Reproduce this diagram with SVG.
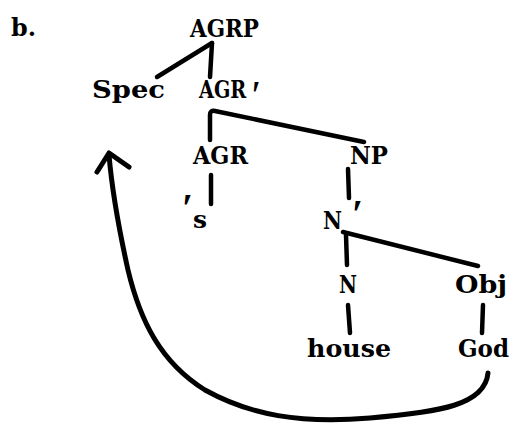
<svg xmlns="http://www.w3.org/2000/svg" width="514" height="426" viewBox="0 0 514 426">
<style>
text{font-family:"DejaVu Serif","Liberation Serif",serif;font-weight:bold;font-size:24px;fill:#000}
.pr{font-family:"Liberation Serif","Times New Roman",serif;font-size:40px}
.e{fill:none;stroke:#000;stroke-width:4.5;stroke-linecap:round;stroke-linejoin:round}
.mv{fill:none;stroke:#000;stroke-width:5;stroke-linecap:round;stroke-linejoin:round}
</style>
<rect width="514" height="426" fill="#fff"/>
<text id="label" x="11" y="36" font-size="26" textLength="25" lengthAdjust="spacingAndGlyphs">b.</text>
<g id="agrp"><text x="190" y="37" textLength="69" lengthAdjust="spacingAndGlyphs">AGRP</text></g>
<g id="spec"><text x="92" y="98" textLength="73" lengthAdjust="spacingAndGlyphs">Spec</text></g>
<g id="agrbar"><text transform="translate(199,98) scale(0.8,1)">AGR<tspan class="pr" x="66" y="10">′</tspan></text></g>
<g id="agr"><text x="193" y="164" textLength="55" lengthAdjust="spacingAndGlyphs">AGR</text></g>
<g id="np"><text x="350" y="164" textLength="38" lengthAdjust="spacingAndGlyphs">NP</text></g>
<g id="s"><text><tspan class="pr" x="182" y="221">′</tspan><tspan x="193" y="228" textLength="14" lengthAdjust="spacingAndGlyphs">s</tspan></text></g>
<g id="nbar"><text><tspan x="323" y="229" textLength="19" lengthAdjust="spacingAndGlyphs">N</tspan><tspan class="pr" x="352" y="227">′</tspan></text></g>
<g id="n"><text x="339" y="293" textLength="18" lengthAdjust="spacingAndGlyphs">N</text></g>
<g id="obj"><text x="455" y="293" textLength="52" lengthAdjust="spacingAndGlyphs">Obj</text></g>
<g id="house"><text x="307" y="357" textLength="84" lengthAdjust="spacingAndGlyphs">house</text></g>
<g id="god"><text x="458" y="357" textLength="51" lengthAdjust="spacingAndGlyphs">God</text></g>
<g id="connectors">
<path class="e" d="M212,43 L157,77"/>
<path class="e" d="M212,43 L210,77"/>
<path class="e" d="M210,140 L210,115 Q210,110 215,111 L364,142"/>
<path class="e" d="M211,175 L211,204"/>
<path class="e" d="M348,169 L349,198"/>
<path class="e" d="M346,235 L347,265"/>
<path class="e" d="M343,232 L478,266"/>
<path class="e" d="M348,305 L350,333"/>
<path class="e" d="M483,305 L482,333"/>
<path class="mv" d="M488,373 C485,405 440,412 370,418 C300,424 250,415 205,390 C160,362 140,320 128,270 C118,225 112,190 109,155"/>
<path class="mv" d="M97,172 L109,153 L129,167"/>
</g>
</svg>
